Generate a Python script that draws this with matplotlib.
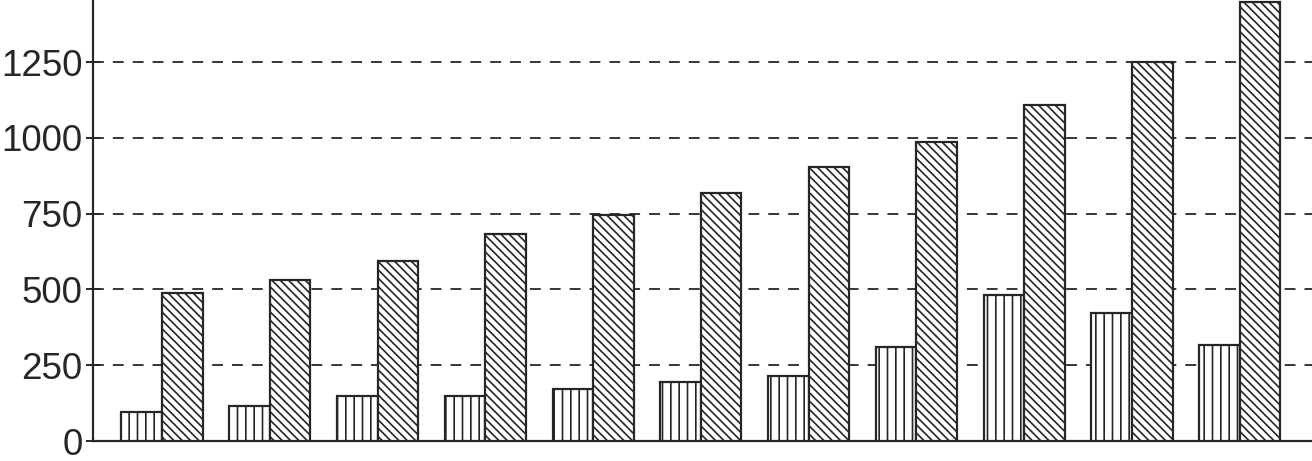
import numpy as np
import matplotlib.pyplot as plt

# values (11 groups, two series)
groups = list(range(1, 12))
series_a = [96, 116, 149, 150, 172, 195, 216, 310, 481, 421, 316]      # vertical hatch
series_b = [487, 532, 593, 684, 747, 818, 905, 986, 1107, 1250, 1450]  # diagonal hatch
y_ticks = [0, 250, 500, 750, 1000, 1250]

INK = '#262626'
plt.rcParams['font.family'] = ['Liberation Sans', 'DejaVu Sans']
plt.rcParams['hatch.linewidth'] = 1.2
plt.rcParams['hatch.color'] = INK

fig = plt.figure(figsize=(13.12, 4.61), dpi=100)
ax = fig.add_axes([93 / 1312, 20 / 461, 1 - 93 / 1312, 441 / 461])

x = np.arange(len(groups))
w = 0.376
ax.bar(x - w / 2, series_a, width=w, facecolor='white', edgecolor=INK,
       linewidth=1.6, hatch='||', zorder=3)
ax.bar(x + w / 2, series_b, width=w, facecolor='white', edgecolor=INK,
       linewidth=1.6, hatch='\\\\\\\\', zorder=3)

ax.set_xlim(-0.64, 10.67)
ax.set_ylim(0, 1455)
ax.set_yticks(y_ticks)
ax.set_xticks([])

# dashed horizontal guides behind the bars
for t in y_ticks[1:]:
    ax.axhline(t, color=INK, linewidth=1.3, dashes=(6, 5), zorder=1)

for side in ['top', 'right']:
    ax.spines[side].set_visible(False)
for side in ['left', 'bottom']:
    ax.spines[side].set_linewidth(1.6)
    ax.spines[side].set_color(INK)

ax.tick_params(axis='y', direction='inout', length=10, width=1.4, color=INK,
               pad=2.5, labelsize=26.5, labelcolor=INK)

fig.savefig('out.png', dpi=100)
